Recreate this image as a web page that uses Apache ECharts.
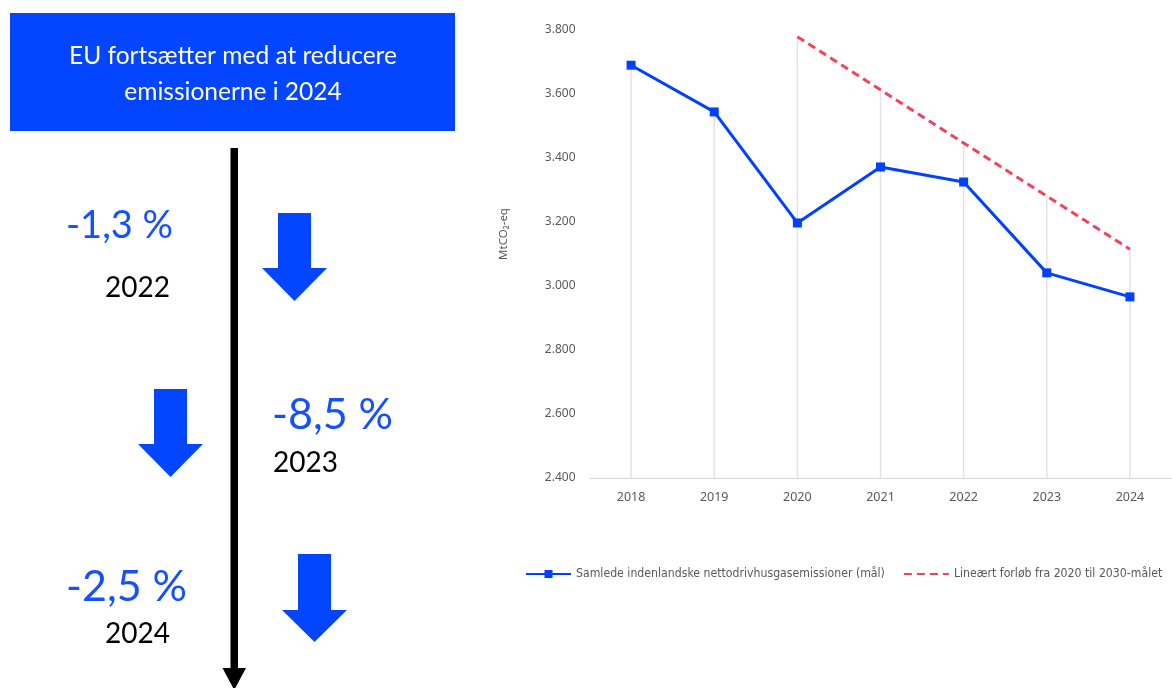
<!DOCTYPE html>
<html>
<head>
<meta charset="utf-8">
<script src="https://cdn.jsdelivr.net/npm/echarts@6/dist/echarts.min.js"></script>
<style>
  html, body { margin: 0; padding: 0; background: #ffffff; }
  #chart { width: 1172px; height: 688px; }
</style>
</head>
<body>
<div id="chart"></div>
<script>
// Years on the category axis
const years = ['2018', '2019', '2020', '2021', '2022', '2023', '2024'];
// Total domestic net greenhouse gas emissions, MtCO2-eq
const netEmissions = [3690, 3544, 3197, 3372, 3325, 3041, 2966];
// Linear path from 2020 to the 2030 target
const linearPath = [null, null, 3779, 3613, 3447, 3281, 3115];
// Y axis ticks
const yMin = 2400, yMax = 3800, yStep = 200;

// Year-on-year changes shown in the left panel
const changeLabels = ['-1,3 %', '-8,5 %', '-2,5 %'];
const changeYears = ['2022', '2023', '2024'];

const seriesNames = [
  'Samlede indenlandske nettodrivhusgasemissioner (mål)',
  'Lineært forløb fra 2020 til 2030-målet'
];

// Thin drop lines from the axis up to the highest point in each year
const dropLines = years.map((_, i) => {
  const vals = [netEmissions[i], linearPath[i]].filter(v => v != null);
  return Math.max.apply(null, vals);
});

const BLUE = '#0446FF';
const TEXT_BLUE = '#1550FF';

function downArrow(x0, top, shaftW, headW, headTop, tip) {
  const cx = x0 + headW / 2;
  return {
    type: 'polygon',
    shape: {
      points: [
        [cx - shaftW / 2, top], [cx + shaftW / 2, top],
        [cx + shaftW / 2, headTop], [x0 + headW, headTop],
        [cx, tip], [x0, headTop], [cx - shaftW / 2, headTop]
      ]
    },
    style: { fill: BLUE }
  };
}

function label(text, x, y, size, color) {
  return {
    type: 'text',
    x: x, y: y,
    style: {
      text: text,
      fill: color,
      font: size + 'px Lato, "Open Sans", sans-serif',
      align: 'left',
      verticalAlign: 'middle'
    }
  };
}

const chart = echarts.init(document.getElementById('chart'));

chart.setOption({
  animation: false,
  backgroundColor: '#ffffff',
  graphic: [
    // Heading box
    { type: 'rect', shape: { x: 10, y: 13, width: 445, height: 118 }, style: { fill: BLUE } },
    {
      type: 'text', x: 233, y: 74,
      style: {
        text: 'EU fortsætter med at reducere\nemissionerne i 2024',
        fill: '#ffffff',
        font: '24.5px Lato, "Open Sans", sans-serif',
        lineHeight: 36,
        align: 'center',
        verticalAlign: 'middle'
      }
    },
    // Timeline arrow
    { type: 'rect', shape: { x: 230.5, y: 148, width: 7.5, height: 524 }, style: { fill: '#000000' } },
    {
      type: 'polygon',
      shape: { points: [[222.5, 668], [246, 668], [234.2, 690]] },
      style: { fill: '#000000' }
    },
    // Blue down arrows
    downArrow(262, 213, 33, 65, 268, 301),
    downArrow(138, 389, 33, 65, 444, 477),
    downArrow(282, 554, 33, 65, 610, 642),
    // Change labels
    label(changeLabels[0], 66, 226, 38, TEXT_BLUE),
    label(changeYears[0], 105, 288, 28, '#000000'),
    label(changeLabels[1], 272, 415, 43, TEXT_BLUE),
    label(changeYears[1], 273, 463, 28, '#000000'),
    label(changeLabels[2], 66, 587, 43, TEXT_BLUE),
    label(changeYears[2], 105, 634, 28, '#000000')
  ],
  legend: {
    data: [
      { name: seriesNames[0] },
      { name: seriesNames[1], itemStyle: { opacity: 0 } }
    ],
    orient: 'horizontal',
    left: 520,
    top: 563,
    width: 900,
    itemWidth: 45,
    itemHeight: 10,
    itemGap: 18,
    textStyle: {
      fontFamily: '"Liberation Sans Narrow", "DejaVu Sans Condensed", sans-serif',
      fontSize: 12.2,
      color: '#595959'
    }
  },
  grid: {
    left: 589.5,
    right: 0.5,
    top: 30,
    bottom: 210
  },
  xAxis: {
    type: 'category',
    data: years,
    boundaryGap: true,
    axisLine: { lineStyle: { color: '#d9d9d9', width: 1 } },
    axisTick: { show: false },
    axisLabel: {
      color: '#595959',
      fontFamily: '"Noto Sans", sans-serif',
      fontSize: 12.5,
      margin: 13
    },
    splitLine: { show: false }
  },
  yAxis: {
    type: 'value',
    min: yMin,
    max: yMax,
    interval: yStep,
    name: 'MtCO₂-eq',
    nameLocation: 'middle',
    nameRotate: 90,
    nameGap: 80,
    nameTextStyle: {
      color: '#595959',
      fontFamily: '"Noto Sans", sans-serif',
      fontSize: 11.5,
      padding: [0, 0, 0, 40]
    },
    axisLine: { show: false },
    axisTick: { show: false },
    splitLine: { show: false },
    axisLabel: {
      color: '#595959',
      fontFamily: '"Noto Sans", sans-serif',
      fontSize: 12,
      margin: 14,
      formatter: v => String(v).replace(/\B(?=(\d{3})+(?!\d))/g, '.')
    }
  },
  series: [
    {
      name: 'drop',
      type: 'bar',
      data: dropLines,
      barWidth: 1.5,
      silent: true,
      itemStyle: { color: '#e3e3e3' },
      z: 1
    },
    {
      name: seriesNames[0],
      type: 'line',
      data: netEmissions,
      symbol: 'rect',
      symbolSize: 9,
      itemStyle: { color: '#0040FF' },
      lineStyle: { color: '#0040FF', width: 3 },
      z: 4
    },
    {
      name: seriesNames[1],
      type: 'line',
      data: linearPath,
      symbol: 'none',
      itemStyle: { color: '#F5405E' },
      lineStyle: { color: '#F5405E', width: 3, type: [8, 5] },
      z: 3
    }
  ]
});
</script>
</body>
</html>
